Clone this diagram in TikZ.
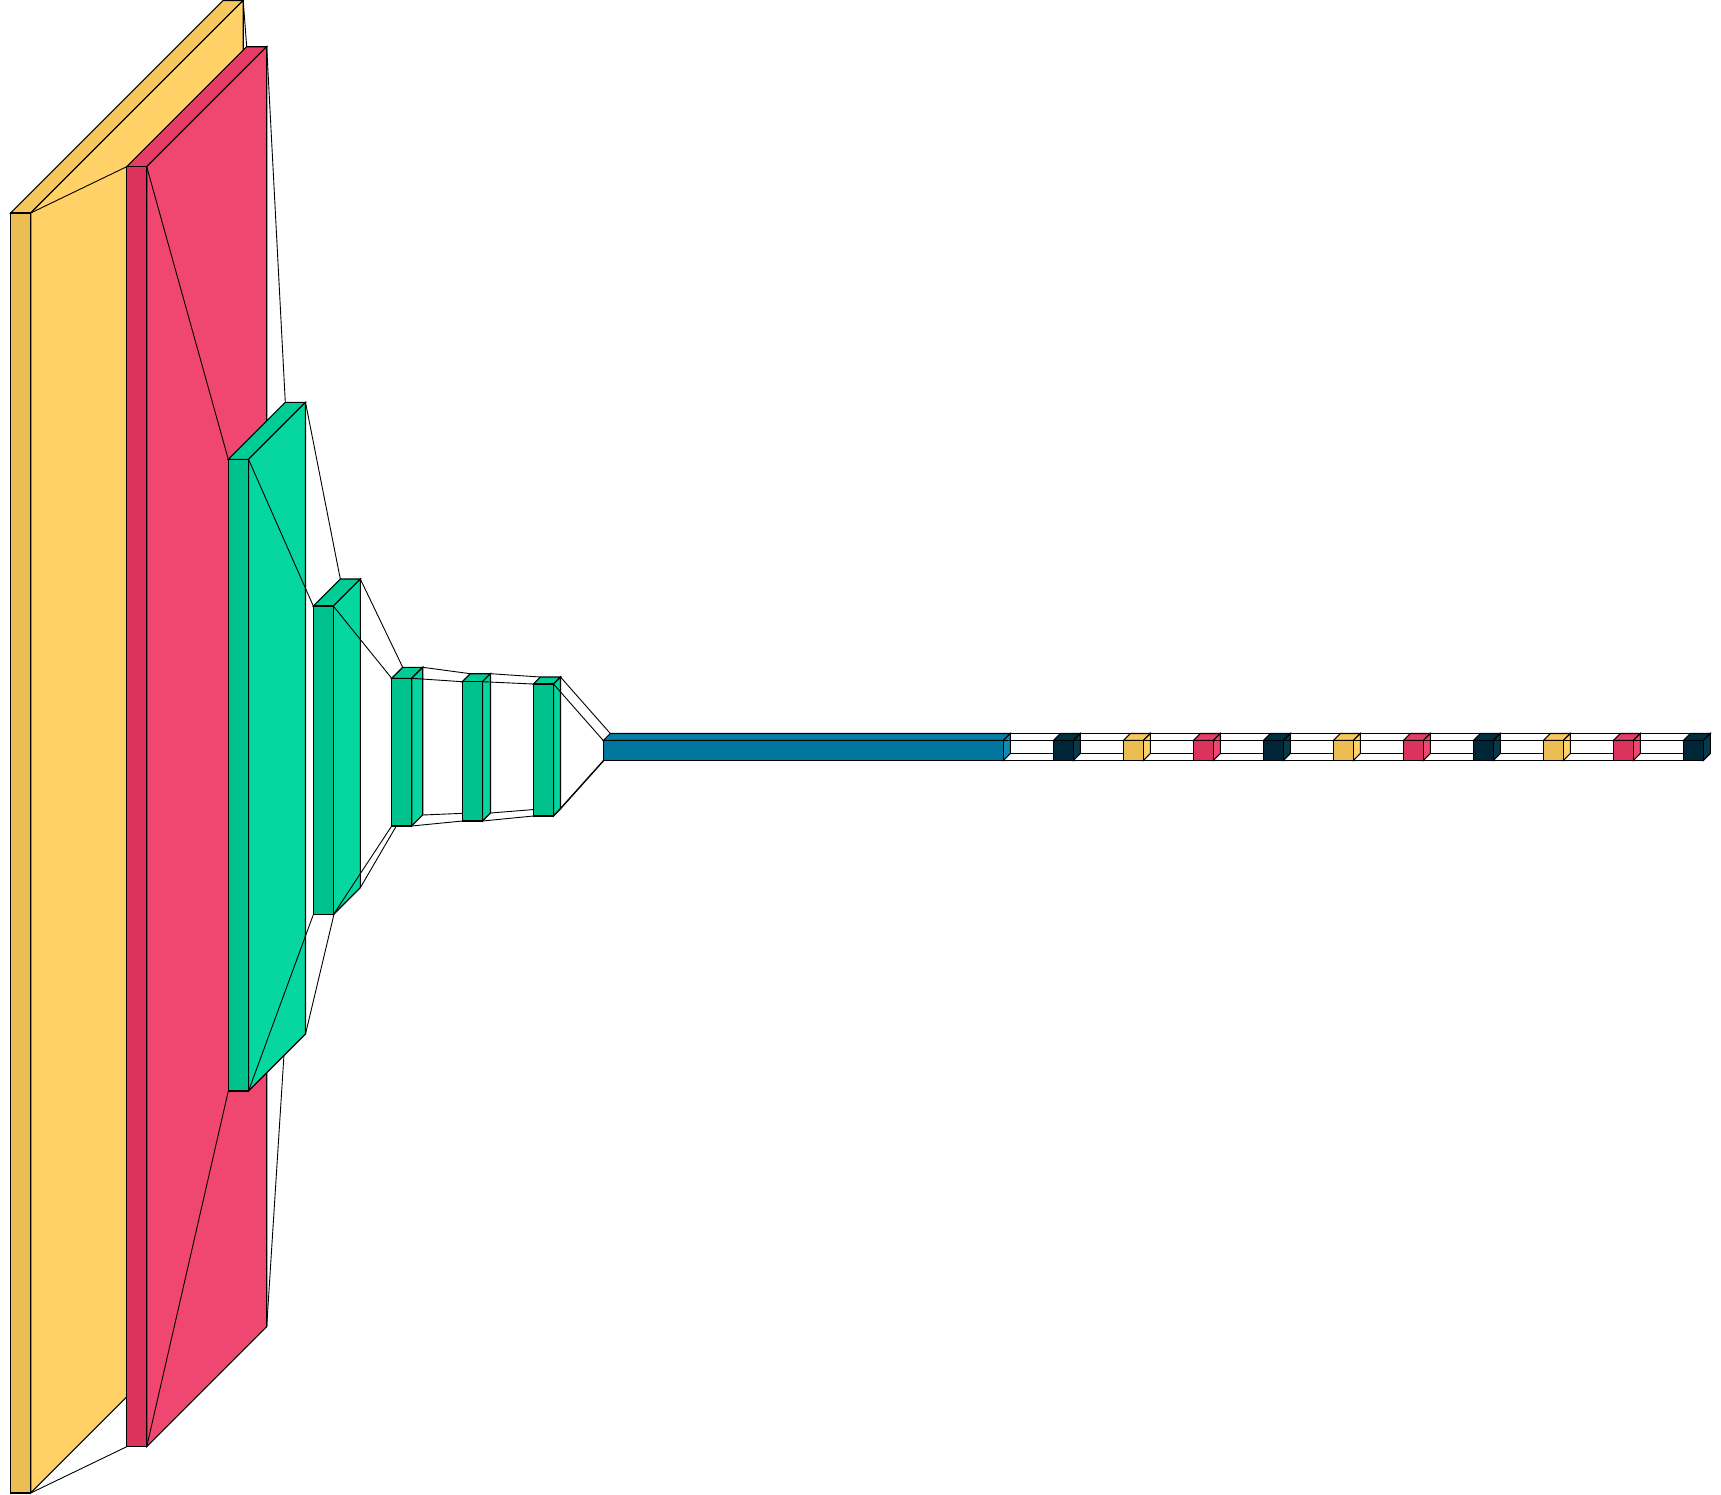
\documentclass[tikz,border=0pt]{standalone}
\usetikzlibrary{calc}
\definecolor{ylside}{RGB}{255,209,102}
\definecolor{yltop}{RGB}{245,199,92}
\definecolor{ylfront}{RGB}{235,189,82}
\definecolor{rdside}{RGB}{239,71,111}
\definecolor{rdtop}{RGB}{229,61,101}
\definecolor{rdfront}{RGB}{219,51,91}
\definecolor{grside}{RGB}{6,214,160}
\definecolor{grtop}{RGB}{0,204,150}
\definecolor{grfront}{RGB}{0,194,140}
\definecolor{blside}{RGB}{17,138,178}
\definecolor{bltop}{RGB}{7,128,168}
\definecolor{blfront}{RGB}{0,118,158}
\definecolor{dkside}{RGB}{7,59,76}
\definecolor{dktop}{RGB}{0,49,66}
\definecolor{dkfront}{RGB}{0,39,56}
\newcommand\vkdef[6]{%
  \coordinate (#1-ftl) at (#2,#3);
  \coordinate (#1-ftr) at (#4,#3);
  \coordinate (#1-fbl) at (#2,#5);
  \coordinate (#1-fbr) at (#4,#5);
  \coordinate (#1-btl) at ({#2+#6},{#3-#6});
  \coordinate (#1-btr) at ({#4+#6},{#3-#6});
  \coordinate (#1-bbr) at ({#4+#6},{#5-#6});
  \coordinate (#1-bbl) at ({#2+#6},{#5-#6});
}
\newcommand\vkdraw[2]{%
  \filldraw[vkbox, fill=#2top] (#1-ftl) -- (#1-btl) -- (#1-btr) -- (#1-ftr) -- cycle;
  \filldraw[vkbox, fill=#2side] (#1-ftr) -- (#1-btr) -- (#1-bbr) -- (#1-fbr) -- cycle;
  \filldraw[vkbox, fill=#2front] (#1-ftl) rectangle (#1-fbr);
}
\newcommand\vkfun[2]{%
  \draw[funnel] (#1-ftr) -- (#2-ftl);
  \draw[funnel] (#1-fbr) -- (#2-fbl);
  \draw[funnel] (#1-btr) -- (#2-btl);
  \draw[funnel] (#1-bbr) -- (#2-bbl);
}
\tikzset{
  vkbox/.style={draw=black, line width=1.1pt, line join=miter},
  funnel/.style={draw=black, line width=0.9pt}
}
\begin{document}
\begin{tikzpicture}[x=1pt,y=-1pt]
\useasboundingbox (0,0) rectangle (1721,1494);
% box corners
\vkdef{L0}{10.7}{213}{30.7}{1493}{212.5}
\vkdef{L1}{126.7}{166.7}{146.7}{1446.7}{120}
\vkdef{L2}{228.3}{459.3}{248.5}{1091}{57}
\vkdef{L3}{313.3}{606}{333.3}{914.7}{27}
\vkdef{L4}{391.7}{678.3}{411.7}{826}{11}
\vkdef{L5}{462.3}{681.7}{482.5}{821}{8}
\vkdef{L6}{533.3}{684}{553.5}{816}{7}
\vkdef{L7}{603.3}{740.5}{1003.3}{760.5}{7}
\vkdef{L8}{1053.3}{740.5}{1073.3}{760.5}{7}
\vkdef{L9}{1123.3}{740.5}{1143.3}{760.5}{7}
\vkdef{L10}{1193.3}{740.5}{1213.3}{760.5}{7}
\vkdef{L11}{1263.3}{740.5}{1283.3}{760.5}{7}
\vkdef{L12}{1333.3}{740.5}{1353.3}{760.5}{7}
\vkdef{L13}{1403.3}{740.5}{1423.3}{760.5}{7}
\vkdef{L14}{1473.3}{740.5}{1493.3}{760.5}{7}
\vkdef{L15}{1543.3}{740.5}{1563.3}{760.5}{7}
\vkdef{L16}{1613.3}{740.5}{1633.3}{760.5}{7}
\vkdef{L17}{1683.3}{740.5}{1703.3}{760.5}{7}
% draw in order
\vkdraw{L0}{yl}
\vkfun{L0}{L1}
\vkdraw{L1}{rd}
\vkfun{L1}{L2}
\vkdraw{L2}{gr}
\vkfun{L2}{L3}
\vkdraw{L3}{gr}
\vkfun{L3}{L4}
\vkdraw{L4}{gr}
\vkfun{L4}{L5}
\vkdraw{L5}{gr}
\vkfun{L5}{L6}
\vkdraw{L6}{gr}
\vkfun{L6}{L7}
\vkdraw{L7}{bl}
\vkfun{L7}{L8}
\vkdraw{L8}{dk}
\vkfun{L8}{L9}
\vkdraw{L9}{yl}
\vkfun{L9}{L10}
\vkdraw{L10}{rd}
\vkfun{L10}{L11}
\vkdraw{L11}{dk}
\vkfun{L11}{L12}
\vkdraw{L12}{yl}
\vkfun{L12}{L13}
\vkdraw{L13}{rd}
\vkfun{L13}{L14}
\vkdraw{L14}{dk}
\vkfun{L14}{L15}
\vkdraw{L15}{yl}
\vkfun{L15}{L16}
\vkdraw{L16}{rd}
\vkfun{L16}{L17}
\vkdraw{L17}{dk}
\end{tikzpicture}
\end{document}
